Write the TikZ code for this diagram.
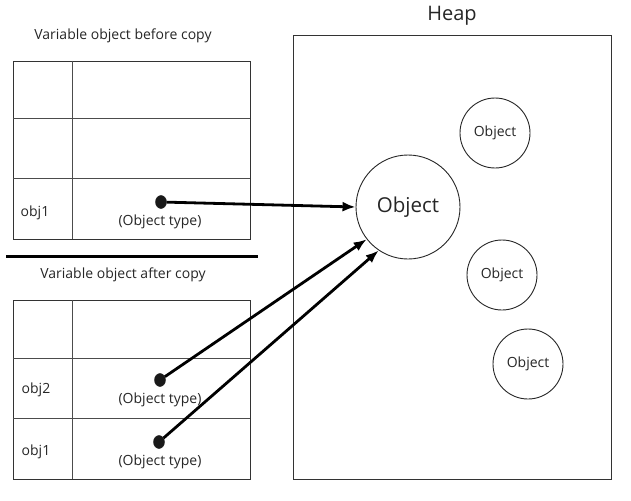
\documentclass[tikz,border=0pt]{standalone}
\usepackage{fontspec}
\setmainfont{Open Sans}
\usetikzlibrary{shapes.geometric,arrows.meta}
\begin{document}
\begin{tikzpicture}[x=1pt,y=-1pt,
  txt/.style={font=\fontsize{14}{17}\selectfont, text=black!85, inner sep=0pt},
  ptr/.style={minimum width=11pt, minimum height=13pt, fill=black!90, inner sep=0pt, shape=ellipse, draw=black!90},
  obj/.style={shape=circle, draw=black!85, line width=0.9pt, minimum size=70pt, inner sep=0pt, font=\fontsize{14}{17}\selectfont, text=black!85},
  ref/.style={-{Latex[length=13pt,width=10pt]}, line width=2.8pt, black}]
\useasboundingbox (0,0) rectangle (631,500);
% variable object before copy
\node[txt] (before) at (123,36) {Variable object before copy};
\draw[black!80, line width=0.9pt] (13,61) rectangle (250,239);
\draw[black!70, line width=0.7pt] (72,61) -- (72,239);
\draw[black!70, line width=0.7pt] (13,118) -- (250,118);
\draw[black!70, line width=0.7pt] (13,178) -- (250,178);
\node[txt] (bobj1) at (35,213) {obj1};
\node[txt] (btype1) at (160,222) {(Object type)};
\node[ptr] (bptr1) at (161,202) {};
% separator
\draw[line width=3pt] (6,256) -- (258,256);
% variable object after copy
\node[txt] (after) at (123,275) {Variable object after copy};
\draw[black!80, line width=0.9pt] (13,300) rectangle (250,479);
\draw[black!70, line width=0.7pt] (72,300) -- (72,479);
\draw[black!70, line width=0.7pt] (13,358) -- (250,358);
\draw[black!70, line width=0.7pt] (13,418) -- (250,418);
\node[txt] (aobj2) at (36,390) {obj2};
\node[txt] (atype2) at (160,400) {(Object type)};
\node[ptr] (aptr2) at (160,380) {};
\node[txt] (aobj1) at (36,452) {obj1};
\node[txt] (atype1) at (160,462) {(Object type)};
\node[ptr] (aptr1) at (159,442) {};
% heap
\node[txt, font=\fontsize{20}{24}\selectfont] (heap) at (452,16) {Heap};
\draw[black!80, line width=0.9pt] (293,35) rectangle (611,479);
\node[obj, minimum size=104pt, font=\fontsize{20.5}{24}\selectfont] (big) at (408,207) {Object};
\node[obj] (o1) at (495,133) {Object};
\node[obj] (o2) at (502,275) {Object};
\node[obj] (o3) at (528,364) {Object};
% references
\draw[ref] (bptr1) -- (big.west);
\draw[ref] (aptr2) -- (big.-142);
\draw[ref] (aptr1) -- (big.-124);
\end{tikzpicture}
\end{document}
